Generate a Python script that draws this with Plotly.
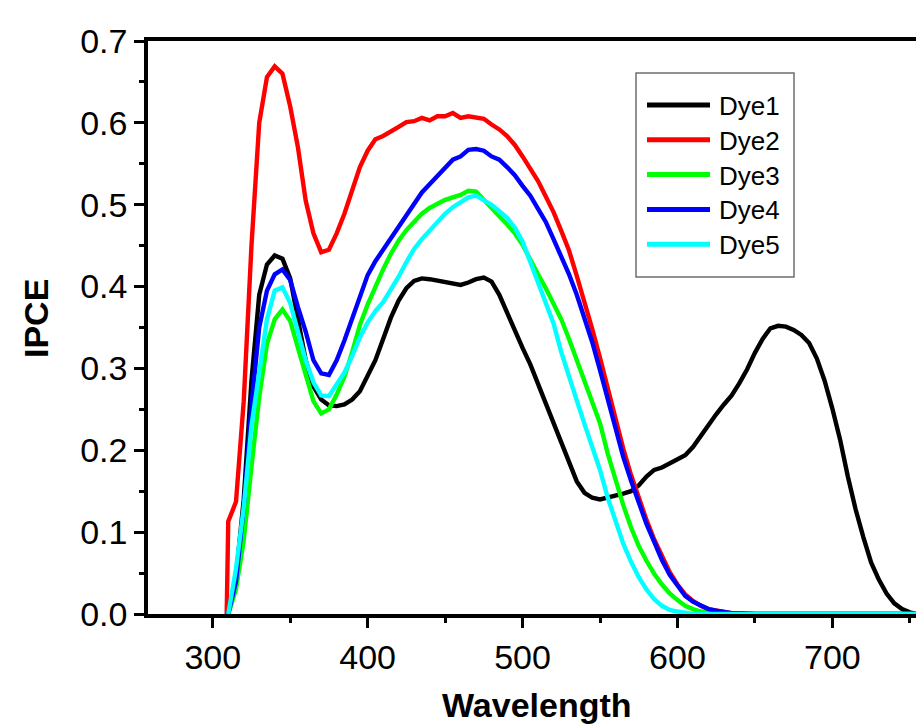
import plotly.graph_objects as go

# Wavelength grid (nm)
wavelength = [309, 310, 315, 320, 325, 330, 335, 340, 345, 350, 355,
              360, 365, 370, 375, 380, 385, 390, 395, 400, 405,
              410, 415, 420, 425, 430, 435, 440, 445, 450, 455,
              460, 465, 470, 475, 480, 485, 490, 495, 500, 505,
              510, 515, 520, 525, 530, 535, 540, 545, 550, 555,
              560, 565, 570, 575, 580, 585, 590, 595, 600, 605,
              610, 615, 620, 625, 630, 635, 640, 645, 650, 655,
              660, 665, 670, 675, 680, 685, 690, 695, 700, 705,
              710, 715, 720, 725, 730, 735, 740, 745, 750, 755, 760]

dye1 = [0.000, 0.000, 0.045, 0.140, 0.285, 0.390, 0.427, 0.438, 0.434, 0.410, 0.360,
        0.310, 0.278, 0.262, 0.255, 0.254, 0.256, 0.262, 0.272, 0.290, 0.310,
        0.336, 0.362, 0.383, 0.398, 0.407, 0.410, 0.409, 0.407, 0.405, 0.404,
        0.402, 0.405, 0.409, 0.411, 0.406, 0.390, 0.368, 0.345, 0.325, 0.305,
        0.281, 0.258, 0.234, 0.208, 0.183, 0.162, 0.148, 0.142, 0.140, 0.142,
        0.144, 0.147, 0.150, 0.157, 0.168, 0.176, 0.179, 0.184, 0.188, 0.194,
        0.204, 0.218, 0.232, 0.244, 0.256, 0.267, 0.282, 0.299, 0.319, 0.336,
        0.349, 0.352, 0.351, 0.347, 0.341, 0.331, 0.312, 0.285, 0.251, 0.213,
        0.168, 0.128, 0.094, 0.063, 0.042, 0.025, 0.013, 0.006, 0.002, 0.000, 0.000]

dye2 = [0.000, 0.113, 0.137, 0.260, 0.450, 0.600, 0.656, 0.669, 0.660, 0.620, 0.570,
        0.505, 0.465, 0.442, 0.445, 0.465, 0.489, 0.516, 0.546, 0.566, 0.580,
        0.584, 0.589, 0.595, 0.601, 0.602, 0.606, 0.603, 0.608, 0.608, 0.612,
        0.606, 0.608, 0.607, 0.605, 0.598, 0.592, 0.584, 0.573, 0.559, 0.545,
        0.529, 0.510, 0.491, 0.468, 0.444, 0.413, 0.382, 0.348, 0.313, 0.276,
        0.234, 0.202, 0.170, 0.142, 0.115, 0.091, 0.070, 0.051, 0.036, 0.024,
        0.016, 0.010, 0.006, 0.004, 0.002, 0.001, 0.001, 0.000, 0.000, 0.000,
        0.000, 0.000, 0.000, 0.000, 0.000, 0.000, 0.000, 0.000, 0.000, 0.000,
        0.000, 0.000, 0.000, 0.000, 0.000, 0.000, 0.000, 0.000, 0.000, 0.000, 0.000]

dye3 = [0.000, 0.000, 0.030, 0.090, 0.180, 0.265, 0.330, 0.360, 0.372, 0.358, 0.325,
        0.290, 0.260, 0.245, 0.250, 0.268, 0.290, 0.320, 0.353, 0.378, 0.401,
        0.421, 0.440, 0.456, 0.469, 0.480, 0.489, 0.496, 0.501, 0.506, 0.509,
        0.512, 0.517, 0.516, 0.506, 0.495, 0.486, 0.476, 0.465, 0.451, 0.432,
        0.415, 0.398, 0.380, 0.360, 0.336, 0.310, 0.284, 0.258, 0.233, 0.196,
        0.163, 0.133, 0.106, 0.083, 0.065, 0.049, 0.036, 0.025, 0.017, 0.010,
        0.006, 0.003, 0.002, 0.001, 0.000, 0.000, 0.000, 0.000, 0.000, 0.000,
        0.000, 0.000, 0.000, 0.000, 0.000, 0.000, 0.000, 0.000, 0.000, 0.000,
        0.000, 0.000, 0.000, 0.000, 0.000, 0.000, 0.000, 0.000, 0.000, 0.000, 0.000]

dye4 = [0.000, 0.000, 0.040, 0.130, 0.255, 0.350, 0.395, 0.415, 0.421, 0.408, 0.375,
        0.345, 0.310, 0.294, 0.292, 0.310, 0.334, 0.362, 0.390, 0.414, 0.431,
        0.445, 0.460, 0.475, 0.488, 0.502, 0.515, 0.525, 0.535, 0.545, 0.555,
        0.559, 0.567, 0.568, 0.566, 0.559, 0.555, 0.546, 0.536, 0.523, 0.511,
        0.495, 0.479, 0.458, 0.437, 0.415, 0.390, 0.362, 0.332, 0.298, 0.262,
        0.226, 0.192, 0.163, 0.137, 0.110, 0.088, 0.066, 0.048, 0.034, 0.022,
        0.015, 0.010, 0.006, 0.004, 0.002, 0.001, 0.001, 0.000, 0.000, 0.000,
        0.000, 0.000, 0.000, 0.000, 0.000, 0.000, 0.000, 0.000, 0.000, 0.000,
        0.000, 0.000, 0.000, 0.000, 0.000, 0.000, 0.000, 0.000, 0.000, 0.000, 0.000]

dye5 = [0.000, 0.000, 0.055, 0.130, 0.230, 0.295, 0.360, 0.395, 0.399, 0.380, 0.345,
        0.310, 0.283, 0.267, 0.266, 0.280, 0.295, 0.315, 0.338, 0.356, 0.370,
        0.381, 0.396, 0.412, 0.430, 0.446, 0.458, 0.469, 0.479, 0.489, 0.497,
        0.503, 0.509, 0.511, 0.506, 0.500, 0.492, 0.484, 0.472, 0.455, 0.430,
        0.405, 0.381, 0.355, 0.320, 0.289, 0.261, 0.232, 0.204, 0.176, 0.142,
        0.112, 0.086, 0.064, 0.045, 0.030, 0.018, 0.010, 0.005, 0.003, 0.001,
        0.000, 0.000, 0.000, 0.000, 0.000, 0.000, 0.000, 0.000, 0.000, 0.000,
        0.000, 0.000, 0.000, 0.000, 0.000, 0.000, 0.000, 0.000, 0.000, 0.000,
        0.000, 0.000, 0.000, 0.000, 0.000, 0.000, 0.000, 0.000, 0.000, 0.000, 0.000]

series_names = ["Dye1", "Dye2", "Dye3", "Dye4", "Dye5"]
series_values = [dye1, dye2, dye3, dye4, dye5]
series_colors = ["#000000", "#FF0000", "#00FF00", "#0000FF", "#00FFFF"]

FONT = "Liberation Sans, Arial, sans-serif"
W, H = 916, 725
ML, MT, MR, MB = 148, 41, 0, 111
PW, PH = W - ML - MR, H - MT - MB


def fx(px):
    return (px - ML) / PW


def fy(py):
    return (H - MB - py) / PH


fig = go.Figure()
for name, vals, col in zip(series_names, series_values, series_colors):
    fig.add_trace(go.Scatter(x=wavelength, y=vals, mode="lines", name=name,
                             line=dict(color=col, width=4.4),
                             showlegend=False))

# Framed legend with long line samples
shapes = [dict(type="rect", xref="paper", yref="paper",
               x0=fx(636), x1=fx(794), y0=fy(277), y1=fy(73),
               line=dict(color="#6e6e6e", width=1.5), fillcolor="white",
               layer="above")]
annotations = []
row_y0, row_step = 105, 34.8
for i, (name, col) in enumerate(zip(series_names, series_colors)):
    yy = row_y0 + i * row_step
    shapes.append(dict(type="line", xref="paper", yref="paper",
                       x0=fx(647), x1=fx(710), y0=fy(yy), y1=fy(yy),
                       line=dict(color=col, width=5), layer="above"))
    annotations.append(dict(text=name, xref="paper", yref="paper",
                            x=fx(717), y=fy(yy + 1), xanchor="left", yanchor="middle",
                            showarrow=False,
                            font=dict(family=FONT, size=26, color="black")))

annotations.append(dict(text="<b>Wavelength</b>", xref="paper", yref="paper",
                        x=fx(537), y=fy(705), xanchor="center", yanchor="middle",
                        showarrow=False,
                        font=dict(family=FONT, size=34, color="black")))
annotations.append(dict(text="<b>IPCE</b>", xref="paper", yref="paper",
                        x=fx(36), y=fy(319), xanchor="center", yanchor="middle",
                        textangle=-90, showarrow=False,
                        font=dict(family=FONT, size=34, color="black")))

fig.update_layout(
    width=W, height=H,
    margin=dict(l=ML, r=MR, t=MT, b=MB, pad=0),
    paper_bgcolor="white", plot_bgcolor="white",
    shapes=shapes, annotations=annotations,
    font=dict(family=FONT, color="black"),
)

fig.update_xaxes(
    range=[258.2, 754.0], tick0=300, dtick=100,
    showline=True, linecolor="black", linewidth=3.5, mirror=True,
    ticks="outside", ticklen=10, tickwidth=3, tickcolor="black",
    minor=dict(dtick=50, tick0=300, ticks="outside", ticklen=5, tickwidth=3,
               tickcolor="black"),
    showgrid=False, zeroline=False, layer="below traces",
    tickfont=dict(family=FONT, size=34, color="black"),
)
fig.update_yaxes(
    range=[0, 0.7], tick0=0, dtick=0.1, tickformat=".1f",
    showline=True, linecolor="black", linewidth=3.5, mirror=False,
    ticks="outside", ticklen=10, tickwidth=3, tickcolor="black",
    minor=dict(dtick=0.05, ticks="outside", ticklen=5, tickwidth=3,
               tickcolor="black"),
    showgrid=False, zeroline=False, layer="below traces",
    tickfont=dict(family=FONT, size=34, color="black"),
)

fig.write_html("out.html")
